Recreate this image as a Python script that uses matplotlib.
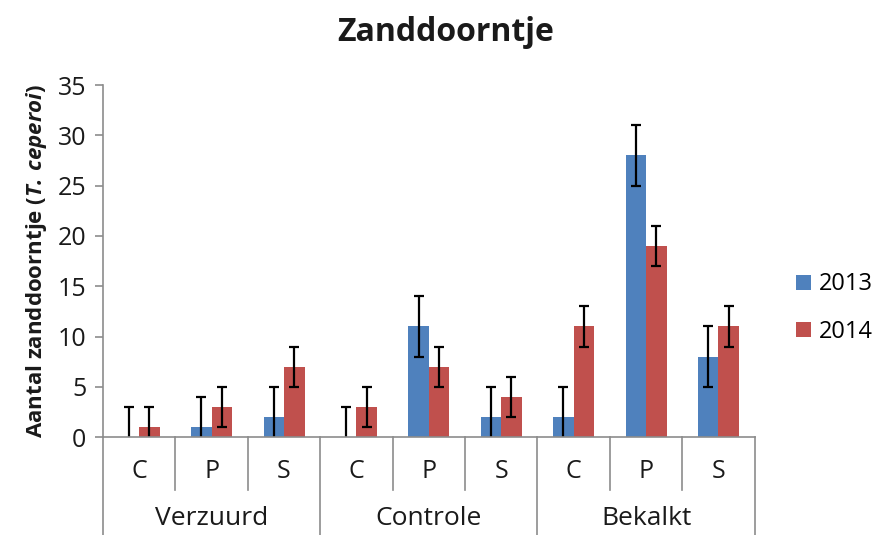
import matplotlib
matplotlib.use("Agg")
import matplotlib.pyplot as plt
import numpy as np

plt.rcParams["font.family"] = ["Open Sans", "DejaVu Sans"]
plt.rcParams["mathtext.fontset"] = "custom"
plt.rcParams["mathtext.bfit"] = "Open Sans:bold:italic"
plt.rcParams["mathtext.bf"] = "Open Sans:bold"

groups = ["Verzuurd", "Controle", "Bekalkt"]
subcats = ["C", "P", "S"]
years = ["2013", "2014"]
vals_2013 = [0, 1, 2, 0, 11, 2, 2, 28, 8]
vals_2014 = [1, 3, 7, 3, 7, 4, 11, 19, 11]
err_2013 = [3, 3, 3, 3, 3, 3, 3, 3, 3]
err_2014 = [2, 2, 2, 2, 2, 2, 2, 2, 2]

blue = "#4F81BD"
red = "#C0504D"
axis_col = "#8C8C8C"
txt_col = "#1A1A1A"

fig = plt.figure(figsize=(8.91, 5.35), dpi=100)
ax = fig.add_axes([0.1156, 0.183, 0.7314, 0.658])

x = np.arange(len(vals_2013))
w = 0.283
ekw = dict(ecolor="black", elinewidth=1.6, capsize=3.5, capthick=1.6)
ax.bar(x - w / 2, vals_2013, w, color=blue, label=years[0],
       yerr=err_2013, error_kw=ekw)
ax.bar(x + w / 2, vals_2014, w, color=red, label=years[1],
       yerr=err_2014, error_kw=ekw)

ax.set_xlim(-0.5, len(x) - 0.5)
ax.set_ylim(0, 35)
ax.set_yticks(range(0, 36, 5))
ax.set_xticks([])
for s in ["top", "right"]:
    ax.spines[s].set_visible(False)
for s in ["left", "bottom"]:
    ax.spines[s].set_color(axis_col)
    ax.spines[s].set_linewidth(1.2)
ax.tick_params(axis="y", colors=axis_col, labelcolor=txt_col,
               labelsize=18, length=6, width=1.2, pad=6)

# two-level category axis
tr = ax.get_xaxis_transform()
for i in range(len(x) + 1):
    xb = i - 0.5
    bottom = -0.278 if i % 3 == 0 else -0.15
    ax.plot([xb, xb], [0, bottom], color=axis_col, lw=1.2,
            transform=tr, clip_on=False)
for i in x:
    ax.text(i, -0.097, subcats[i % 3], transform=tr, ha="center",
            va="center", fontsize=18, color=txt_col)
for g, name in enumerate(groups):
    ax.text(3 * g + 1, -0.232, name, transform=tr, ha="center",
            va="center", fontsize=19, color=txt_col)

ax.set_ylabel(r"Aantal zanddoorntje ($\mathbfit{T.\,ceperoi}$)",
              fontsize=16, fontweight="bold", labelpad=6, color=txt_col)

fig.text(0.5, 0.94, "Zanddoorntje", ha="center", va="center",
         fontsize=23, fontweight="bold", color=txt_col)

ax.legend(loc="center left", bbox_to_anchor=(0.87, 0.424),
          bbox_transform=fig.transFigure, frameon=False, fontsize=17,
          handlelength=0.6, handleheight=0.6, handletextpad=0.35,
          labelspacing=1.0)

fig.savefig("out.png", dpi=100)
